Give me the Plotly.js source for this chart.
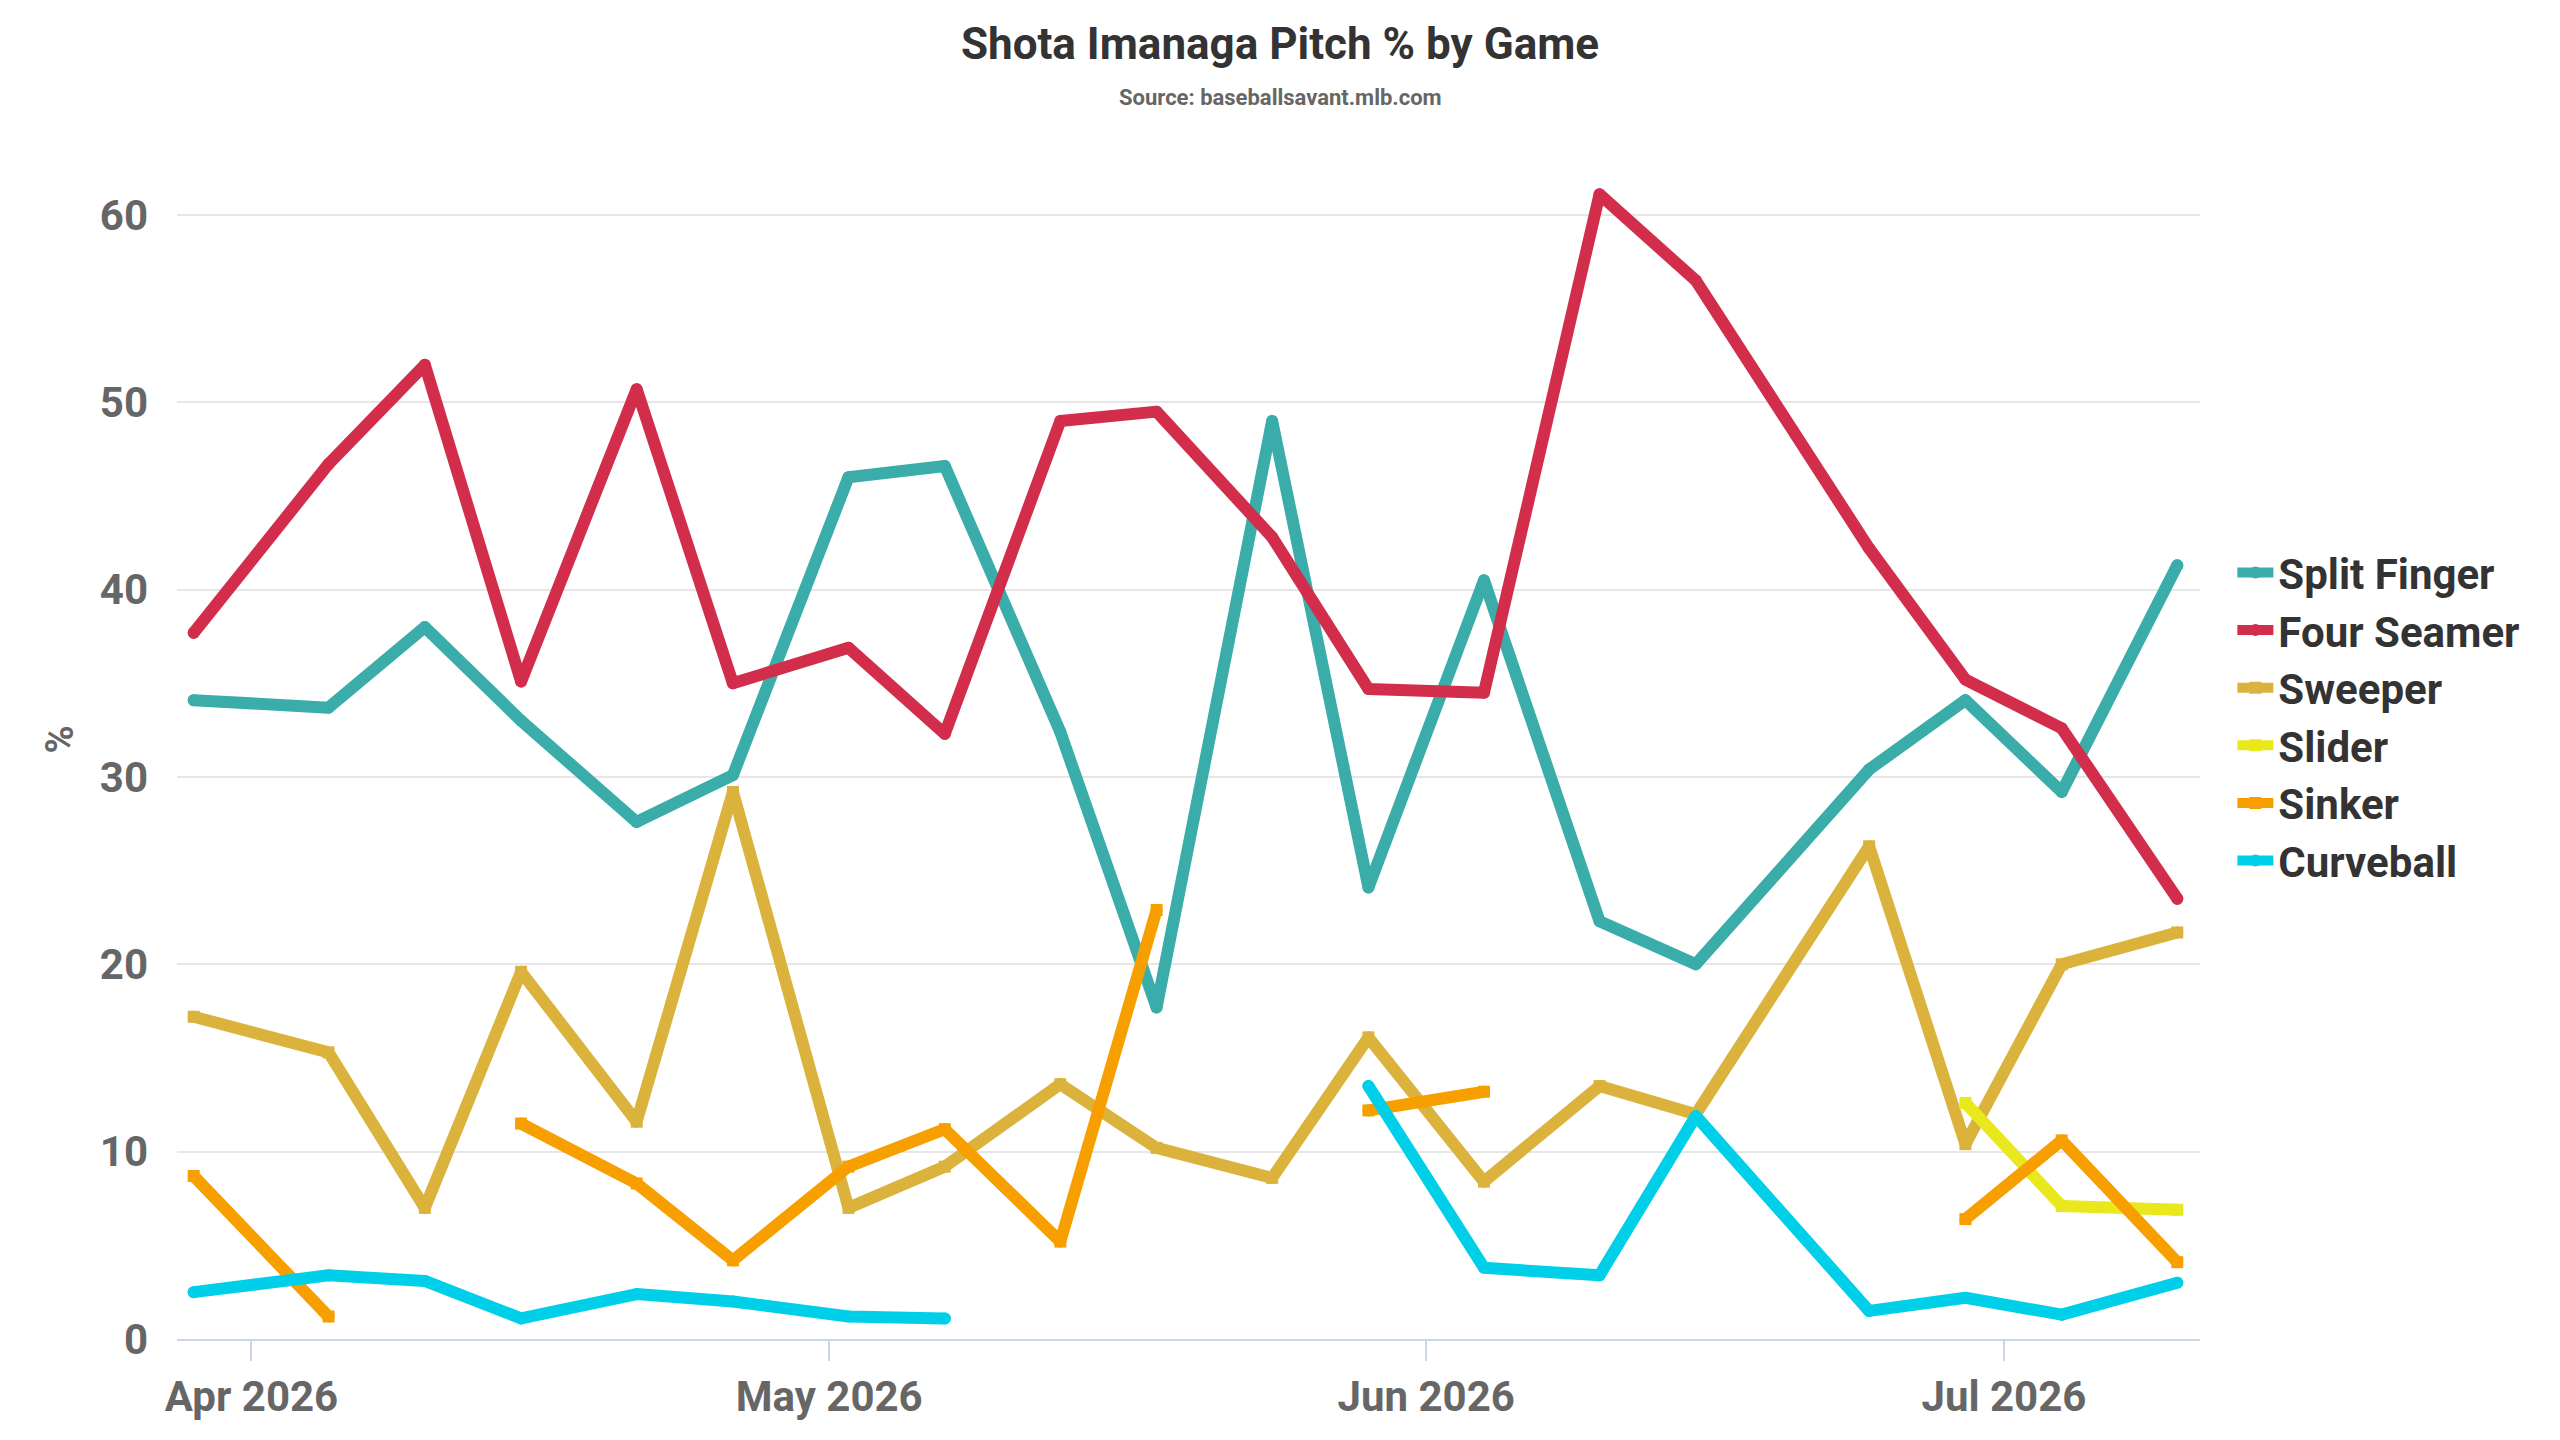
<!DOCTYPE html>
<html>
<head>
<meta charset="utf-8">
<script src="https://cdn.plot.ly/plotly-3.0.1.min.js"></script>
<style>
  html, body { margin: 0; padding: 0; background: #ffffff; }
  #chart { width: 2560px; height: 1440px; }
  .scatterlayer .js-line { stroke-linejoin: round !important; stroke-linecap: round !important; }
</style>
</head>
<body>
<div id="chart"></div>
<script>
const gameDates = ['2026-03-29','2026-04-05','2026-04-10','2026-04-15','2026-04-21','2026-04-26','2026-05-02','2026-05-07','2026-05-13','2026-05-18','2026-05-24','2026-05-29','2026-06-04','2026-06-10','2026-06-15','2026-06-24','2026-06-29','2026-07-04','2026-07-10'];

const splitFinger = [34.1, 33.7, 38.0, 33.0, 27.6, 30.1, 46.0, 46.6, 32.4, 17.7, 49.0, 24.1, 40.5, 22.3, 20.0, 30.4, 34.1, 29.2, 41.3];
const fourSeamer  = [37.7, 46.7, 52.0, 35.1, 50.7, 35.0, 36.9, 32.3, 49.0, 49.5, 42.8, 34.7, 34.5, 61.1, 56.5, 42.2, 35.2, 32.6, 23.5];
const sweeper     = [17.2, 15.3, 7.0, 19.6, 11.6, 29.2, 7.0, 9.2, 13.6, 10.2, 8.6, 16.1, 8.4, 13.5, 12.0, 26.3, 10.4, 20.0, 21.7];
const slider      = [null, null, null, null, null, null, null, null, null, null, null, null, null, null, null, null, 12.6, 7.1, 6.9];
const sinker      = [8.7, 1.2, null, 11.5, 8.3, 4.2, 9.2, 11.2, 5.2, 22.9, null, 12.2, 13.2, null, null, null, 6.4, 10.6, 4.1];
const curveball   = [2.5, 3.4, 3.1, 1.1, 2.4, 2.0, 1.2, 1.1, null, null, null, 13.5, 3.8, 3.4, 11.9, 1.5, 2.2, 1.3, 3.0];

const seriesNames = ['Split Finger', 'Four Seamer', 'Sweeper', 'Slider', 'Sinker', 'Curveball'];
const seriesValues = [splitFinger, fourSeamer, sweeper, slider, sinker, curveball];
const seriesColors = ['#3aadaa', '#d22e4c', '#dbb23c', '#e8e81c', '#f89f00', '#00cfea'];
const seriesSymbols = ['circle', 'circle', 'square', 'square', 'square', 'circle'];

const FONT = 'Roboto, "Liberation Sans Narrow", sans-serif';

const traces = seriesNames.map((name, i) => ({
  type: 'scatter',
  mode: 'lines+markers',
  name: name,
  x: gameDates,
  y: seriesValues[i],
  connectgaps: false,
  line: { color: seriesColors[i], width: 12 },
  marker: { color: seriesColors[i], size: 12, symbol: seriesSymbols[i] },
  hoverinfo: 'x+y+name'
}));

const layout = {
  width: 2560,
  height: 1440,
  paper_bgcolor: '#ffffff',
  plot_bgcolor: '#ffffff',
  margin: { l: 177, r: 360, t: 140, b: 101 },
  font: { family: FONT, color: '#333333' },
  title: {
    text: 'Shota Imanaga Pitch % by Game',
    font: { family: FONT, size: 44, color: '#333333', weight: 'bold' },
    x: 0.5, xref: 'container', xanchor: 'center',
    y: 1 - 44 / 1440, yref: 'container', yanchor: 'middle'
  },
  annotations: [{
    text: 'Source: baseballsavant.mlb.com',
    xref: 'paper', yref: 'paper',
    x: (1280 - 177) / 2023, y: (1339 - 98) / 1199,
    xanchor: 'center', yanchor: 'middle',
    showarrow: false,
    font: { family: FONT, size: 22, color: '#666666', weight: 'bold' }
  }],
  xaxis: {
    type: 'date',
    range: ['2026-03-28 03:10', '2026-07-11 04:20'],
    tick0: '2026-04-01',
    dtick: 'M1',
    tickformat: '%b %Y',
    showgrid: false,
    showline: true,
    linecolor: '#ccd6eb',
    linewidth: 2,
    ticks: 'outside',
    ticklen: 20,
    tickwidth: 2,
    tickcolor: '#ccd6eb',
    tickfont: { family: FONT, size: 42, color: '#666666', weight: 'bold' },
    zeroline: false,
    fixedrange: true
  },
  yaxis: {
    range: [0, 64],
    tick0: 0,
    dtick: 10,
    showgrid: true,
    gridcolor: '#e6e6e6',
    gridwidth: 2,
    zeroline: false,
    showline: false,
    ticks: '',
    ticklabelstandoff: 28,
    tickfont: { family: FONT, size: 42, color: '#666666', weight: 'bold' },
    title: {
      text: '%',
      standoff: 14,
      font: { family: FONT, size: 38, color: '#666666', weight: 'bold' }
    },
    fixedrange: true
  },
  showlegend: true,
  legend: {
    x: 1.016, xanchor: 'left',
    y: 0.519, yanchor: 'middle',
    font: { family: FONT, size: 42, color: '#333333', weight: 'bold' },
    itemwidth: 36,
    bgcolor: 'rgba(0,0,0,0)',
    borderwidth: 0
  }
};

Plotly.newPlot('chart', traces, layout, { displayModeBar: false, staticPlot: false });
</script>
</body>
</html>
